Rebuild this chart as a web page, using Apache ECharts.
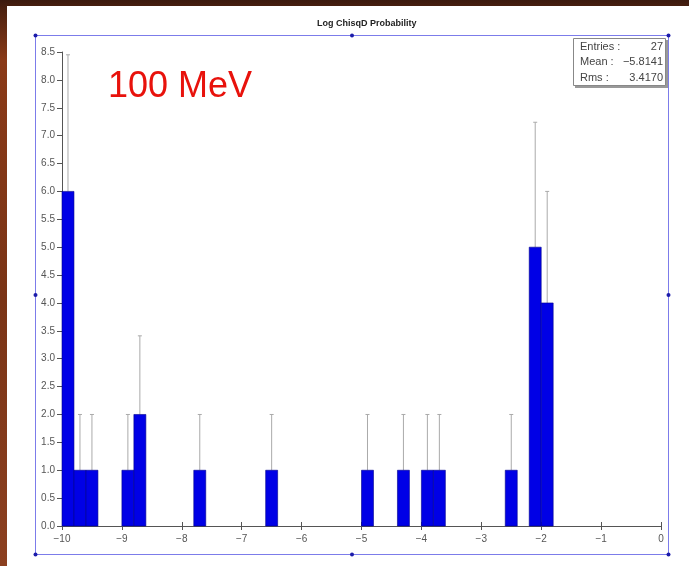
<!DOCTYPE html>
<html>
<head>
<meta charset="utf-8">
<script src="https://cdn.jsdelivr.net/npm/echarts@6/dist/echarts.min.js"></script>
<style>
  html, body { margin: 0; padding: 0; }
  body {
    width: 689px; height: 566px; overflow: hidden;
    background: linear-gradient(180deg, #3b1a0e 0px, #4a200f 8px, #8a3a18 60px, #7a3416 300px, #8c4020 566px);
  }
  #chart { width: 689px; height: 566px; }
</style>
</head>
<body>
<div id="chart"></div>
<script>
// histogram bins (lower edge), counts and error bar tops
const binLow = [-10, -9.8, -9.6, -9.0, -8.8, -7.8, -6.6, -5.0, -4.4, -4.0, -3.8, -2.6, -2.2, -2.0]
const binWidth = 0.2
const counts = [6, 1, 1, 1, 2, 1, 1, 1, 1, 1, 1, 1, 5, 4]
const errTop = [8.45, 2, 2, 2, 3.41, 2, 2, 2, 2, 2, 2, 2, 7.24, 6]
const statLabels = ['Entries :', 'Mean :', 'Rms :']
const statValues = ['27', '\u22125.8141', '3.4170']

const minus = v => String(v).replace('-', '\u2212')

let myChart = echarts.init(document.getElementById('chart'))

const barData = binLow.map((x, i) => [x, x + binWidth, counts[i]])
const errData = binLow.map((x, i) => [x + binWidth / 2, counts[i], errTop[i]])

// stats box texts
let statGraphics = []
statLabels.forEach((t, i) => {
  statGraphics.push({ type: 'text', left: 580, top: 41 + i * 15.5, z: 20,
    style: { text: t, font: '11px "Liberation Sans", Arial', fill: '#444' } })
  statGraphics.push({ type: 'text', right: 689 - 663, top: 41 + i * 15.5, z: 20,
    style: { text: statValues[i], font: '11px "Liberation Sans", Arial', fill: '#444', align: 'right' } })
})

// frame handles
const fx = [35.5, 352, 668.5]
const fy = [35.5, 295, 554.5]
let handles = []
fx.forEach(x => fy.forEach(y => {
  if (x === 352 && y === 295) return
  handles.push({ type: 'circle', shape: { cx: x, cy: y, r: 2 }, z: 15, style: { fill: '#1c1caa' } })
}))

const option = {
  animation: false,
  backgroundColor: 'transparent',
  grid: { left: 62, right: 28, top: 52, bottom: 40 },
  xAxis: [{
    type: 'value', min: -10, max: 0, interval: 1,
    splitLine: { show: false },
    axisLine: { show: true, onZero: false, lineStyle: { color: '#555', width: 1 } },
    axisTick: { show: true, length: 4, lineStyle: { color: '#555' } },
    axisLabel: { color: '#555', fontSize: 10, fontFamily: 'Liberation Sans', margin: 8, formatter: minus }
  }, {
    type: 'value', min: -10, max: 0, interval: 1, position: 'bottom',
    splitLine: { show: false },
    axisLine: { show: false },
    axisTick: { show: true, inside: true, length: 4, lineStyle: { color: '#555' } },
    axisLabel: { show: false }
  }],
  yAxis: {
    type: 'value', min: 0, max: 8.5, interval: 0.5, position: 'left',
    splitLine: { show: false },
    axisLine: { show: true, onZero: false, lineStyle: { color: '#555', width: 1 } },
    axisTick: { show: true, length: 5, lineStyle: { color: '#555' } },
    axisLabel: { color: '#555', fontSize: 10, fontFamily: 'Liberation Sans', margin: 7,
      formatter: v => v.toFixed(1) }
  },
  graphic: [
    { type: 'rect', shape: { x: 7, y: 6, width: 682, height: 560 }, z: -10, style: { fill: '#ffffff' } },
    { type: 'rect', shape: { x: 35.5, y: 35.5, width: 633, height: 519 }, z: 14,
      style: { fill: 'none', stroke: '#7c7cea', lineWidth: 1 } },
    ...handles,
    { type: 'text', left: 317, top: 19, z: 20,
      style: { text: 'Log ChisqD Probability', font: 'bold 9px "Liberation Sans", Arial', fill: '#222' } },
    { type: 'text', left: 108, top: 69, z: 20,
      style: { text: '100 MeV', font: '36px "Liberation Sans", Arial', fill: '#e8120c' } },
    { type: 'rect', shape: { x: 575, y: 40, width: 93, height: 48 }, z: 18,
      style: { fill: '#999' } },
    { type: 'rect', shape: { x: 573.5, y: 38.5, width: 92, height: 47 }, z: 19,
      style: { fill: '#fff', stroke: '#888', lineWidth: 1 } },
    ...statGraphics
  ],
  series: [{
    type: 'custom',
    name: 'errors',
    xAxisIndex: 0,
    z: 2,
    data: errData,
    renderItem: (params, api) => {
      const base = api.coord([api.value(0), api.value(1)])
      const top = api.coord([api.value(0), api.value(2)])
      const st = { stroke: '#aaaaaa', lineWidth: 1 }
      return { type: 'group', children: [
        { type: 'line', shape: { x1: base[0], y1: base[1], x2: top[0], y2: top[1] }, style: st },
        { type: 'line', shape: { x1: top[0] - 2, y1: top[1], x2: top[0] + 2, y2: top[1] }, style: st }
      ] }
    }
  }, {
    type: 'custom',
    name: 'counts',
    xAxisIndex: 0,
    z: 3,
    data: barData,
    renderItem: (params, api) => {
      const p0 = api.coord([api.value(0), api.value(2)])
      const p1 = api.coord([api.value(1), 0])
      return { type: 'rect',
        shape: { x: p0[0], y: p0[1], width: p1[0] - p0[0], height: p1[1] - p0[1] },
        style: { fill: '#0000e6', stroke: '#00008c', lineWidth: 0.6 } }
    }
  }]
}

myChart.setOption(option)
</script>
</body>
</html>
